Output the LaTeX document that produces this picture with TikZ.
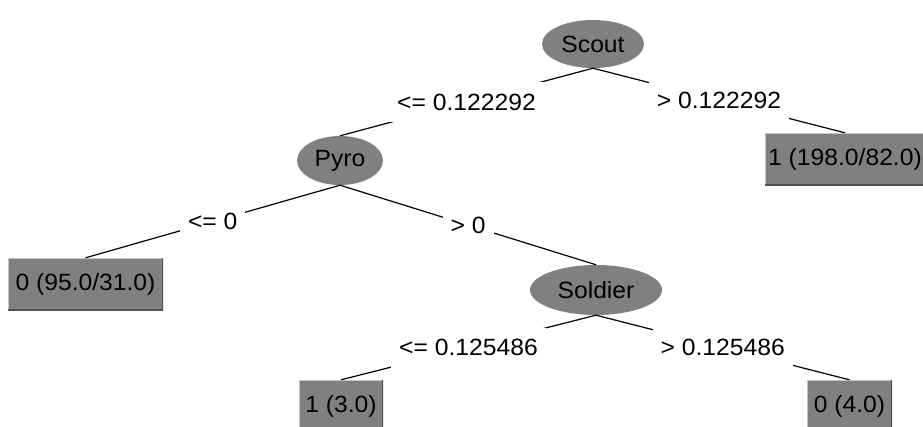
\documentclass[tikz,border=0pt]{standalone}
\usepackage{fontspec}
\setmainfont{Liberation Sans}[FakeStretch=1.05]
\usetikzlibrary{shapes.geometric}
\definecolor{nodegray}{RGB}{128,128,128}
\definecolor{edgehi}{RGB}{196,196,196}
\definecolor{edgelo}{RGB}{80,80,80}
\tikzset{
  treefont/.style={font=\fontsize{23.5}{26}\selectfont},
  split/.style={ellipse, fill=nodegray, inner sep=0pt, treefont},
  leaf/.style={rectangle, fill=nodegray, inner sep=0pt, treefont,
    path picture={
      \draw[edgehi, line width=2pt] (path picture bounding box.south west) |- (path picture bounding box.north east);
      \draw[edgelo, line width=2pt] (path picture bounding box.south west) -| (path picture bounding box.north east);
    }},
  branch/.style={line width=1.2pt, black},
  cond/.style={fill=white, inner xsep=8pt, inner ysep=0pt, minimum height=40pt, treefont}
}
\begin{document}
\begin{tikzpicture}[x=1pt, y=-1pt]
  \useasboundingbox (0,0) rectangle (923,426);
  \clip (0,0) rectangle (923,426);
  \fill[white] (0,0) rectangle (923,426);

  % decision nodes
  \node[split, minimum width=102pt, minimum height=48pt] (scout) at (593,44) {Scout};
  \node[split, minimum width=86pt, minimum height=49pt] (pyro) at (340,160.5) {Pyro};
  \node[split, minimum width=132pt, minimum height=50pt] (soldier) at (596,290) {Soldier};

  % leaves
  \node[leaf, minimum width=160pt, minimum height=52pt] (lr) at (845,159) {1 (198.0/82.0)};
  \node[leaf, minimum width=155pt, minimum height=52pt] (ll) at (85.5,284) {0 (95.0/31.0)};
  \node[leaf, minimum width=84pt, minimum height=52pt] (l3) at (341,406) {1 (3.0)};
  \node[leaf, minimum width=85pt, minimum height=52pt] (l4) at (849.5,406) {0 (4.0)};

  % branches with their split conditions
  \draw[branch] (scout.south) -- (pyro.north) node[cond, midway] {<= 0.122292};
  \draw[branch] (scout.south) -- (lr.north) node[cond, midway] {> 0.122292};
  \draw[branch] (pyro.south) -- (ll.north) node[cond, midway] {<= 0};
  \draw[branch] (pyro.south) -- (soldier.north) node[cond, midway] {> 0};
  \draw[branch] (soldier.south) -- (l3.north) node[cond, midway] {<= 0.125486};
  \draw[branch] (soldier.south) -- (l4.north) node[cond, midway] {> 0.125486};
\end{tikzpicture}
\end{document}
